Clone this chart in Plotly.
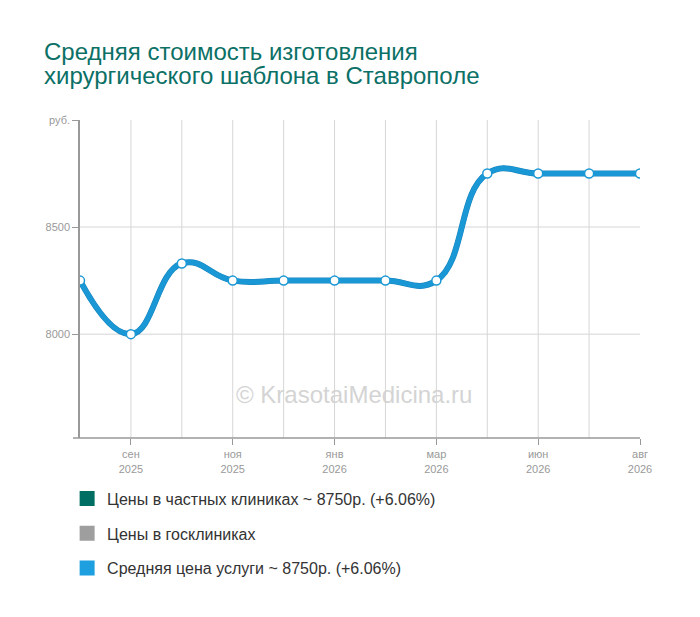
import plotly.graph_objects as go

# monthly points, Aug 2025 .. Aug 2026 (one month skipped in the source)
months = ["авг<br>2025", "сен<br>2025", "окт<br>2025", "ноя<br>2025", "дек<br>2025",
          "янв<br>2026", "фев<br>2026", "мар<br>2026", "май<br>2026", "июн<br>2026",
          "июл<br>2026", "авг<br>2026"]
private_prices = [8250, 8000, 8330, 8250, 8250, 8250, 8250, 8250, 8750, 8750, 8750, 8750]
average_prices = [8250, 8000, 8330, 8250, 8250, 8250, 8250, 8250, 8750, 8750, 8750, 8750]
labeled_idx = [1, 3, 5, 7, 9, 11]
y_ticks = [8000, 8500, 9000]
y_ticktext = ["8000", "8500", "руб."]
y_grid = [8000, 8500]

title_lines = ["Средняя стоимость изготовления",
               "хирургического шаблона в Ставрополе"]
legend_names = ["Цены в частных клиниках ~ 8750р. (+6.06%)",
                "Цены в госклиниках",
                "Средняя цена услуги ~ 8750р. (+6.06%)"]
legend_colors = ["#006e63", "#9e9e9e", "#1e9fe0"]

LINE_BLUE = "#1a98d5"
x = list(range(len(months)))

fig = go.Figure()

fig.add_trace(go.Scatter(
    x=x, y=private_prices, mode="lines",
    line=dict(color="#1883bd", width=6, shape="spline", smoothing=1.3),
    showlegend=False, hoverinfo="skip"))
fig.add_trace(go.Scatter(
    x=x, y=average_prices, mode="lines+markers",
    line=dict(color=LINE_BLUE, width=5, shape="spline", smoothing=1.3),
    marker=dict(size=9, color="white", line=dict(color=LINE_BLUE, width=1.5)),
    showlegend=False))

# legend entries as squares
for i, (name, col) in enumerate(zip(legend_names, legend_colors)):
    fig.add_trace(go.Scatter(
        x=[None], y=[None], mode="markers", name=name, legendgroup=str(i),
        marker=dict(symbol="square", size=15, color=col)))

shapes = []
for v in y_grid:
    shapes.append(dict(type="line", xref="paper", yref="y", x0=0, x1=1, y0=v, y1=v,
                       line=dict(color="#e3e3e3", width=1.5), layer="below"))
for i in x[1:-1]:
    shapes.append(dict(type="line", xref="x", yref="paper", x0=i, x1=i, y0=0, y1=1,
                       line=dict(color="#d6d6d6", width=1), layer="below"))
# x axis line sticking out a little to the left
shapes.append(dict(type="line", xref="paper", yref="paper", x0=-0.0125, x1=1, y0=0, y1=0,
                   line=dict(color="#999999", width=1.5)))

annotations = [dict(text="© KrasotaiMedicina.ru", xref="paper", yref="paper",
                    x=0.49, y=0.088, showarrow=False,
                    font=dict(size=24, color="#d4d4d4"))]
# title as two annotations to get the tighter line spacing
for line, ypos in zip(title_lines, [1.214, 1.141]):
    annotations.append(dict(text=line, xref="paper", yref="paper", x=-0.068, y=ypos,
                            xanchor="left", yanchor="middle", showarrow=False,
                            font=dict(size=24, color="#0b7066")))

fig.update_layout(
    width=700, height=617,
    paper_bgcolor="white", plot_bgcolor="white",
    margin=dict(l=72, r=68, t=112, b=187),
    font=dict(family="Liberation Sans, Arial, sans-serif"),
    xaxis=dict(range=[0, 11], showgrid=False, zeroline=False, showline=False,
               tickvals=labeled_idx, ticktext=[months[i] for i in labeled_idx],
               ticks="outside", ticklen=6, tickcolor="#999999",
               tickfont=dict(size=11, color="#999999")),
    yaxis=dict(range=[7515, 9000], showgrid=False, zeroline=False,
               showline=True, linecolor="#999999", linewidth=1.5,
               tickvals=y_ticks, ticktext=y_ticktext,
               ticks="outside", ticklen=6, tickcolor="#999999",
               tickfont=dict(size=11, color="#999999")),
    shapes=shapes,
    annotations=annotations,
    legend=dict(x=-0.023, xref="paper", y=-0.137, yanchor="top",
                font=dict(size=16, color="#333333"),
                tracegroupgap=11, itemwidth=30),
    showlegend=True,
)

fig.write_html("out.html")
